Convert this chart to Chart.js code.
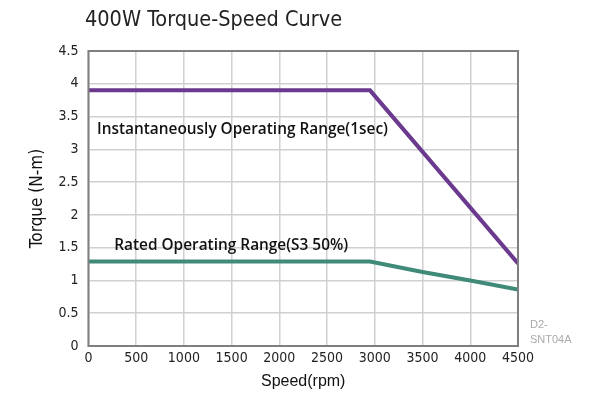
<!DOCTYPE html>
<html>
<head>
    <title>400W Torque-Speed Curve</title>
    <style type="text/css">
        body { margin: 0; background: #fff; }
        #chart-container { width: 614px; height: 396px; }
    </style>
    <script src="https://cdn.jsdelivr.net/npm/chart.js@4/dist/chart.umd.min.js"></script>
</head>
<body>
<div id="chart-container">
    <canvas id="graphCanvas" width="614" height="396"></canvas>
</div>
<script>
    // curve data
    var peakSpeed = [0, 2950, 4500];
    var peakTorque = [3.9, 3.9, 1.26];
    var ratedSpeed = [0, 2950, 3500, 4000, 4500];
    var ratedTorque = [1.29, 1.29, 1.13, 1.0, 0.86];
    var xTicks = [0, 500, 1000, 1500, 2000, 2500, 3000, 3500, 4000, 4500];
    var yTicks = [0, 0.5, 1, 1.5, 2, 2.5, 3, 3.5, 4, 4.5];
    var labels = [
        { text: 'Instantaneously Operating Range(1sec)', x: 90, y: 3.3 },
        { text: 'Rated Operating Range(S3 50%)', x: 270, y: 1.53 }
    ];

    function toPoints(xs, ys) {
        var pts = [];
        for (var i = 0; i < xs.length; i++) pts.push({ x: xs[i], y: ys[i] });
        return pts;
    }

    var extras = {
        id: 'extras',
        afterDraw: function (chart) {
            var ctx = chart.ctx;
            var a = chart.chartArea;
            var xs = chart.scales.x, ys = chart.scales.y;
            ctx.save();
            // frame
            ctx.strokeStyle = '#7f7f7f';
            ctx.lineWidth = 2;
            ctx.strokeRect(a.left, a.top, a.right - a.left, a.bottom - a.top);
            // title
            ctx.fillStyle = '#222';
            ctx.font = '21.5px "DejaVu Sans Condensed", "DejaVu Sans"';
            ctx.textBaseline = 'middle';
            ctx.textAlign = 'left';
            ctx.fillText('400W Torque-Speed Curve', 85, 20);
            // range labels
            ctx.font = '600 15.4px "Open Sans"';
            ctx.fillStyle = '#111';
            labels.forEach(function (l) {
                ctx.fillText(l.text, xs.getPixelForValue(l.x), ys.getPixelForValue(l.y));
            });
            // code mark
            ctx.font = '11px "Liberation Sans"';
            ctx.fillStyle = '#aaa';
            ctx.fillText('D2-', 530, 325);
            ctx.fillText('SNT04A', 530, 340);
            ctx.restore();
        }
    };

    var tickFont = { family: '"DejaVu Sans Condensed"', size: 14 };

    new Chart(document.getElementById('graphCanvas'), {
        type: 'line',
        data: {
            datasets: [
                {
                    label: 'Instantaneously Operating Range(1sec)',
                    data: toPoints(peakSpeed, peakTorque),
                    borderColor: '#6b3a8e',
                    borderWidth: 4,
                    pointRadius: 0,
                    tension: 0
                },
                {
                    label: 'Rated Operating Range(S3 50%)',
                    data: toPoints(ratedSpeed, ratedTorque),
                    borderColor: '#3f8a78',
                    borderWidth: 4,
                    pointRadius: 0,
                    tension: 0
                }
            ]
        },
        options: {
            responsive: false,
            animation: false,
            layout: { padding: { top: 51, right: 96, bottom: 5, left: 27 } },
            plugins: { legend: { display: false }, tooltip: { enabled: false } },
            scales: {
                x: {
                    type: 'linear',
                    min: 0, max: 4500,
                    afterBuildTicks: function (s) { s.ticks = xTicks.map(function (v) { return { value: v }; }); },
                    grid: { color: '#d0d0d0', lineWidth: 1.5, drawTicks: false },
                    border: { display: false },
                    ticks: { color: '#222', font: tickFont, padding: 4, maxRotation: 0,
                        callback: function (v) { return String(v); } },
                    title: { display: true, text: 'Speed(rpm)', color: '#111', font: { family: '"Liberation Sans"', size: 16 }, padding: { top: 1, bottom: 0 } }
                },
                y: {
                    min: 0, max: 4.5,
                    afterBuildTicks: function (s) { s.ticks = yTicks.map(function (v) { return { value: v }; }); },
                    grid: { color: '#d0d0d0', lineWidth: 1.5, drawTicks: false },
                    border: { display: false },
                    ticks: { color: '#222', font: tickFont, padding: 10,
                        callback: function (v) { return String(v); } },
                    title: { display: true, text: 'Torque (N-m)', color: '#111', font: { family: '"DejaVu Sans Condensed"', size: 17 }, padding: { top: 0, bottom: 1 } }
                }
            }
        },
        plugins: [extras]
    });
</script>
</body>
</html>
